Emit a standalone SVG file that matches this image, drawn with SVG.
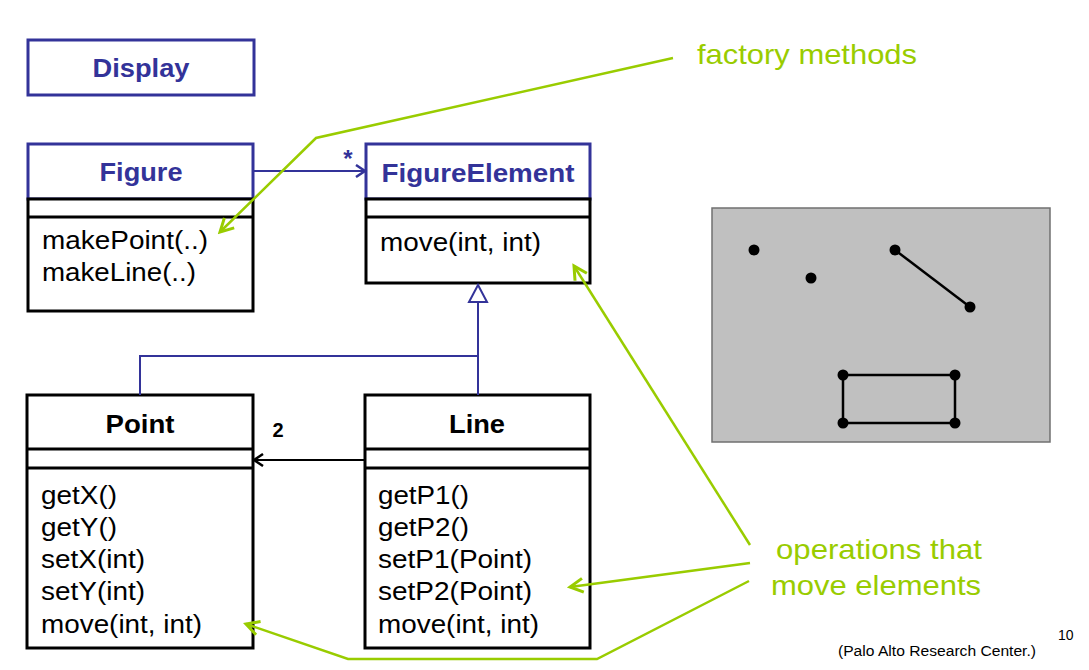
<svg xmlns="http://www.w3.org/2000/svg" width="1089" height="670" viewBox="0 0 1089 670">
<style>
.bg{fill:#ffffff}
.blue{fill:#ffffff;stroke:#333399;stroke-width:3}
.blk{fill:#ffffff;stroke:#000000;stroke-width:3}
.bline{stroke:#000000;stroke-width:3}
.hdrB{font-family:"Liberation Sans",Arial,sans-serif;font-weight:bold;font-size:25px;fill:#333399}
.hdrK{font-family:"Liberation Sans",Arial,sans-serif;font-weight:bold;font-size:25px;fill:#000000}
.m{font-family:"Liberation Sans",Arial,sans-serif;font-size:25px;fill:#000000}
.note{font-family:"Liberation Sans",Arial,sans-serif;font-size:28px;fill:#99CC00}
.small{font-family:"Liberation Sans",Arial,sans-serif;font-size:14px;fill:#000000}
.conB{fill:none;stroke:#333399;stroke-width:2}
.conK{fill:none;stroke:#000000;stroke-width:2}
.green{fill:none;stroke:#99CC00;stroke-width:2.5}
.dot{fill:#000000}
</style>
<defs>
<marker id="openB" markerWidth="14" markerHeight="14" refX="11" refY="7" orient="auto" markerUnits="userSpaceOnUse">
<path d="M2,1 L11,7 L2,13" fill="none" stroke="#333399" stroke-width="2.5"/>
</marker>
<marker id="openK" markerWidth="14" markerHeight="14" refX="11" refY="7" orient="auto" markerUnits="userSpaceOnUse">
<path d="M2,1 L11,7 L2,13" fill="none" stroke="#000000" stroke-width="2.5"/>
</marker>
<marker id="openG" markerWidth="18" markerHeight="18" refX="15" refY="9" orient="auto" markerUnits="userSpaceOnUse">
<path d="M2,2 L15,9 L2,16" fill="none" stroke="#99CC00" stroke-width="3"/>
</marker>
</defs>
<rect class="bg" x="0" y="0" width="1089" height="670"/>

<g id="Display">
<rect class="blue" x="28" y="40" width="226" height="55"/>
<text class="hdrB" x="141" y="77" text-anchor="middle" textLength="97" lengthAdjust="spacingAndGlyphs" style="font-size:26px">Display</text>
</g>

<g id="Figure">
<rect class="blue" x="28" y="144" width="225" height="55"/>
<rect class="blk" x="28" y="199" width="225" height="112"/>
<line class="bline" x1="28" y1="217" x2="253" y2="217"/>
<text class="hdrB" x="141" y="181" text-anchor="middle" textLength="83" lengthAdjust="spacingAndGlyphs">Figure</text>
<text class="m" x="42" y="249" textLength="166" lengthAdjust="spacingAndGlyphs">makePoint(..)</text>
<text class="m" x="42" y="281" textLength="154" lengthAdjust="spacingAndGlyphs">makeLine(..)</text>
</g>

<g id="FigureElement">
<rect class="blue" x="366" y="144" width="224" height="55"/>
<rect class="blk" x="366" y="199" width="224" height="84"/>
<line class="bline" x1="366" y1="217" x2="590" y2="217"/>
<text class="hdrB" x="478" y="182" text-anchor="middle" textLength="193" lengthAdjust="spacingAndGlyphs">FigureElement</text>
<text class="m" x="380" y="251" textLength="161" lengthAdjust="spacingAndGlyphs">move(int, int)</text>
</g>

<g id="Point">
<rect class="blk" x="27" y="395" width="226" height="253"/>
<line class="bline" x1="27" y1="449" x2="253" y2="449"/>
<line class="bline" x1="27" y1="468" x2="253" y2="468"/>
<text class="hdrK" x="140" y="433" text-anchor="middle" textLength="69" lengthAdjust="spacingAndGlyphs">Point</text>
<text class="m" x="41" y="504" textLength="76" lengthAdjust="spacingAndGlyphs">getX()</text>
<text class="m" x="41" y="536" textLength="76" lengthAdjust="spacingAndGlyphs">getY()</text>
<text class="m" x="41" y="568" textLength="104" lengthAdjust="spacingAndGlyphs">setX(int)</text>
<text class="m" x="41" y="600" textLength="104" lengthAdjust="spacingAndGlyphs">setY(int)</text>
<text class="m" x="41" y="633" textLength="161" lengthAdjust="spacingAndGlyphs">move(int, int)</text>
</g>

<g id="Line">
<rect class="blk" x="365" y="395" width="225" height="253"/>
<line class="bline" x1="365" y1="449" x2="590" y2="449"/>
<line class="bline" x1="365" y1="468" x2="590" y2="468"/>
<text class="hdrK" x="477" y="433" text-anchor="middle" textLength="56" lengthAdjust="spacingAndGlyphs">Line</text>
<text class="m" x="378" y="504" textLength="91" lengthAdjust="spacingAndGlyphs">getP1()</text>
<text class="m" x="378" y="536" textLength="91" lengthAdjust="spacingAndGlyphs">getP2()</text>
<text class="m" x="378" y="568" textLength="154" lengthAdjust="spacingAndGlyphs">setP1(Point)</text>
<text class="m" x="378" y="600" textLength="154" lengthAdjust="spacingAndGlyphs">setP2(Point)</text>
<text class="m" x="378" y="633" textLength="161" lengthAdjust="spacingAndGlyphs">move(int, int)</text>
</g>

<g id="connectors">
<line class="conB" x1="254" y1="171" x2="365" y2="171" marker-end="url(#openB)"/>
<text x="348" y="167" text-anchor="middle" style="font-family:'Liberation Sans',Arial,sans-serif;font-weight:bold;font-size:24px;fill:#333399">*</text>
<polyline class="conB" points="140,395 140,356 478,356"/>
<line class="conB" x1="478" y1="395" x2="478" y2="302"/>
<polygon points="478,285 469,302 487,302" fill="#ffffff" stroke="#333399" stroke-width="2"/>
<line class="conK" x1="365" y1="460" x2="254" y2="460" marker-end="url(#openK)"/>
<text x="278" y="437" text-anchor="middle" style="font-family:'Liberation Sans',Arial,sans-serif;font-weight:bold;font-size:20px;fill:#000000">2</text>
</g>

<g id="Canvas">
<rect x="712" y="208" width="338" height="234" fill="#C0C0C0" stroke="#707070" stroke-width="1.5"/>
<line x1="895" y1="250" x2="970" y2="307" stroke="#000" stroke-width="2.5"/>
<rect x="843" y="375" width="112" height="48" fill="none" stroke="#000" stroke-width="2.5"/>
<circle class="dot" cx="754" cy="250" r="5.5"/>
<circle class="dot" cx="811" cy="278" r="5.5"/>
<circle class="dot" cx="895" cy="250" r="5.5"/>
<circle class="dot" cx="970" cy="307" r="5.5"/>
<circle class="dot" cx="843" cy="375" r="5.5"/>
<circle class="dot" cx="955" cy="375" r="5.5"/>
<circle class="dot" cx="843" cy="423" r="5.5"/>
<circle class="dot" cx="955" cy="423" r="5.5"/>
</g>

<g id="annotations">
<polyline class="green" points="673,58 316,138 220,232" marker-end="url(#openG)"/>
<line class="green" x1="750" y1="545" x2="574" y2="266" marker-end="url(#openG)"/>
<line class="green" x1="750" y1="563" x2="570" y2="587" marker-end="url(#openG)"/>
<polyline class="green" points="749,581 597,659 348,659 246,624" marker-end="url(#openG)"/>
<text class="note" x="697" y="64" textLength="220" lengthAdjust="spacingAndGlyphs">factory methods</text>
<text class="note" x="879" y="559" text-anchor="middle" textLength="206" lengthAdjust="spacingAndGlyphs">operations that</text>
<text class="note" x="876" y="595" text-anchor="middle" textLength="210" lengthAdjust="spacingAndGlyphs">move elements</text>
<text class="small" x="838" y="656" textLength="198" lengthAdjust="spacingAndGlyphs">(Palo Alto Research Center.)</text>
<text class="small" x="1058" y="640">10</text>
</g>
</svg>
